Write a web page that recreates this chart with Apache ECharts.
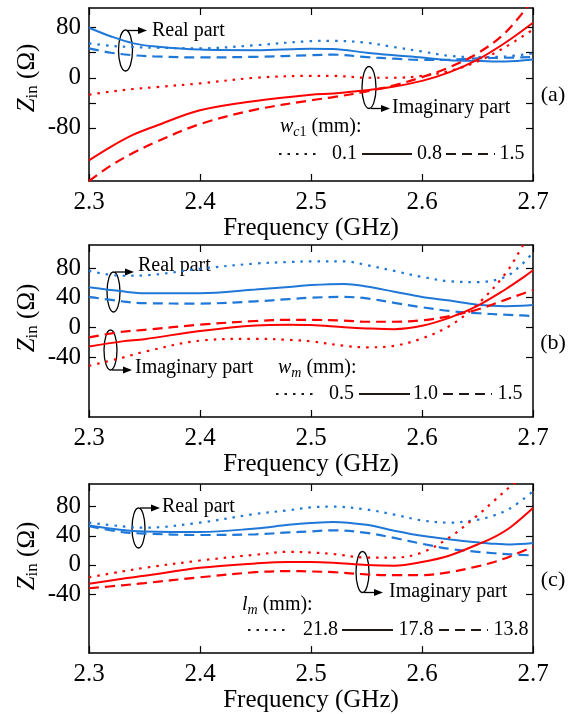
<!DOCTYPE html>
<html><head><meta charset="utf-8">
<script src="https://cdn.jsdelivr.net/npm/echarts@6/dist/echarts.min.js"></script>
<style>html,body{margin:0;padding:0;background:#fff}#c{width:576px;height:714px}</style>
</head><body><div id="c"></div>
<script>
const FONT = '"Liberation Serif","Times New Roman",serif';
const BLUE = '#1f78d8', RED = '#ff0000', INK = '#231815';

// ---------- panel (a): w_c1 ----------
const freqA = [2.30, 2.32, 2.34, 2.36, 2.40, 2.45, 2.50, 2.52, 2.55, 2.575, 2.60, 2.625, 2.65, 2.675, 2.70];
const aReal01 = [55, 51, 49, 48, 47, 52, 58.5, 59, 56, 49, 42, 35, 33, 34, 39];
const aReal08 = [80, 66, 55, 50, 45, 44, 46.5, 46, 40, 36, 32.5, 28, 27, 26, 29];
const aReal15 = [47, 40, 36, 34, 32.5, 33.5, 36, 37, 33, 30.5, 28.5, 29, 31, 32, 33];
const aImag01 = [-27, -22, -18, -15, -9, 0, 3, 3, 0, 0, 3, 11, 26, 49, 77];
const aImag08 = [-132, -110, -91, -77, -52, -37, -27, -25, -20, -14, -5, 9, 29, 56, 88];
const aImag15 = [-165, -140, -120, -103, -74, -51, -36, -31, -22, -12, 1, 17, 39, 72, 125];

// ---------- panel (b): w_m ----------
const freqB = [2.30, 2.33, 2.35, 2.40, 2.45, 2.48, 2.50, 2.53, 2.55, 2.575, 2.60, 2.625, 2.65, 2.675, 2.69, 2.70];
const bReal05 = [76, 69.5, 70, 79, 86, 88, 89, 89, 84, 76, 68, 62, 61, 68, 85, 101];
const bReal10 = [54, 48.5, 46, 46, 51, 54.5, 57, 58.5, 55, 48, 41, 36, 30.5, 28.5, 29, 30];
const bReal15 = [41, 35, 32.5, 32, 35, 38, 40, 41, 39, 33, 27, 22, 19, 17, 16, 15];
const bImag05 = [-52, -41, -33, -18, -15.5, -17, -19, -25, -27, -25, -15, 2, 31, 72, 108, 135];
const bImag10 = [-26, -19, -16, -5, 2.5, 3.5, 3, 0, -1.5, -2.5, 2, 13, 29, 51, 66, 77];
const bImag15 = [-13.5, -6, -3.5, 3.5, 8.5, 10, 10, 9, 7.5, 7.5, 9.5, 15, 24, 37, 45, 50];

// ---------- panel (c): l_m ----------
const freqC = [2.30, 2.33, 2.35, 2.40, 2.45, 2.48, 2.50, 2.52, 2.55, 2.575, 2.60, 2.625, 2.65, 2.665, 2.68, 2.70];
const cReal218 = [58, 53, 51, 58, 70, 75, 79, 80, 76, 69, 61, 58, 62, 68, 78, 101];
const cReal178 = [54, 48, 46, 45, 50, 55, 57.5, 59, 55, 47, 40, 35, 31, 29, 28, 30];
const cReal138 = [53, 45, 43, 41, 42, 44.5, 46, 47.5, 44, 37, 29, 22, 18, 16, 14.5, 13];
const cImag218 = [-17, -9, -4, 6, 14, 18, 17, 15, 10, 10, 17, 38, 68, 88, 108, 130];
const cImag178 = [-26, -19, -15, -4, 2, 4, 4, 3, 0, -1, 4, 13, 28, 38, 52, 78];
const cImag138 = [-32, -28, -25, -17, -10, -8.5, -9, -10, -13, -14, -14, -10, -2, 4, 12, 25];

// axis ticks / labels
const xTicks = [2.3, 2.4, 2.5, 2.6, 2.7];
const yTicksA = [-80, -40, 0, 40, 80], yLabelsA = [-80, 0, 80];
const yTicksBC = [-40, 0, 40, 80], yLabelsBC = [-40, 0, 40, 80];
const yRange = [[-165, 111.5], [-121, 111], [-121, 111]];

const grids = [
  {left: 89, right: 43, top: 8, height: 173},
  {left: 89, right: 43, top: 245, height: 172},
  {left: 89, right: 43, top: 484, height: 172}
];

const DOT = [2.5, 6], DASH = [10, 6];
function mk(g, freq, vals, color, type) {
  return {
    type: 'line', xAxisIndex: 2 * g, yAxisIndex: 2 * g, smooth: 0.35, symbol: 'none', clip: true,
    data: freq.map((f, i) => [f, vals[i]]),
    lineStyle: {color: color, width: type === 'solid' ? 2 : 2.2, type: type === 'dot' ? DOT : (type === 'dash' ? DASH : 'solid')},
    silent: true, animation: false
  };
}
const series = [
  mk(0, freqA, aReal01, BLUE, 'dot'), mk(0, freqA, aReal08, BLUE, 'solid'), mk(0, freqA, aReal15, BLUE, 'dash'),
  mk(0, freqA, aImag01, RED, 'dot'), mk(0, freqA, aImag08, RED, 'solid'), mk(0, freqA, aImag15, RED, 'dash'),
  mk(1, freqB, bReal05, BLUE, 'dot'), mk(1, freqB, bReal10, BLUE, 'solid'), mk(1, freqB, bReal15, BLUE, 'dash'),
  mk(1, freqB, bImag05, RED, 'dot'), mk(1, freqB, bImag10, RED, 'solid'), mk(1, freqB, bImag15, RED, 'dash'),
  mk(2, freqC, cReal218, BLUE, 'dot'), mk(2, freqC, cReal178, BLUE, 'solid'), mk(2, freqC, cReal138, BLUE, 'dash'),
  mk(2, freqC, cImag218, RED, 'dot'), mk(2, freqC, cImag178, RED, 'solid'), mk(2, freqC, cImag138, RED, 'dash')
];

const axLine = {show: true, onZero: false, lineStyle: {color: '#000', width: 1.5}};
const tickStyle = {color: '#000', width: 1.2};
const xAxes = [], yAxes = [];
for (let g = 0; g < 3; g++) {
  xAxes.push({
    type: 'value', gridIndex: g, position: 'bottom', min: 2.3, max: 2.7,
    axisLine: axLine, splitLine: {show: false},
    axisTick: {inside: true, length: 7, customValues: xTicks, lineStyle: tickStyle},
    axisLabel: {customValues: xTicks, formatter: v => v.toFixed(1), color: '#000', fontFamily: FONT, fontSize: 25, margin: 9},
    name: 'Frequency (GHz)', nameLocation: 'middle', nameGap: 29,
    nameTextStyle: {color: '#000', fontFamily: FONT, fontSize: 25}
  });
  xAxes.push({
    type: 'value', gridIndex: g, position: 'top', min: 2.3, max: 2.7,
    axisLine: axLine, splitLine: {show: false},
    axisTick: {inside: true, length: 7, customValues: xTicks, lineStyle: tickStyle},
    axisLabel: {show: false}
  });
  const ticks = g === 0 ? yTicksA : yTicksBC, labels = g === 0 ? yLabelsA : yLabelsBC;
  yAxes.push({
    type: 'value', gridIndex: g, position: 'left', min: yRange[g][0], max: yRange[g][1],
    axisLine: axLine, splitLine: {show: false},
    axisTick: {inside: true, length: 7, customValues: ticks, lineStyle: tickStyle},
    axisLabel: {customValues: labels, formatter: v => String(v), color: '#000', fontFamily: FONT, fontSize: 25, margin: 8}
  });
  yAxes.push({
    type: 'value', gridIndex: g, position: 'right', min: yRange[g][0], max: yRange[g][1],
    axisLine: axLine, splitLine: {show: false},
    axisTick: {inside: true, length: 7, customValues: ticks, lineStyle: tickStyle},
    axisLabel: {show: false}
  });
}

// ---------- annotation helpers ----------
const mctx = document.createElement('canvas').getContext('2d');
function fontStr(s, it) { return (it ? 'italic ' : '') + s + 'px ' + FONT; }
function seq(x, y, parts, align) {
  const w = parts.map(p => { mctx.font = fontStr(p.s, p.i); return mctx.measureText(p.t).width; });
  const total = w.reduce((a, b) => a + b, 0);
  let cx = align === 'center' ? x - total / 2 : (align === 'right' ? x - total : x);
  const els = parts.map((p, k) => {
    const el = {type: 'text', x: cx, y: y + (p.dy || 0), silent: true,
      style: {text: p.t, font: fontStr(p.s, p.i), fill: '#000', textAlign: 'left', align: 'left', textVerticalAlign: 'middle', verticalAlign: 'middle'}};
    cx += w[k];
    return el;
  });
  return {els, total};
}
function ellipse(cx, cy, rx, ry) {
  return {type: 'ellipse', silent: true, shape: {cx, cy, rx, ry}, style: {fill: 'none', stroke: '#000', lineWidth: 1.3}};
}
function arrow(x1, y, x2) {
  return [
    {type: 'line', silent: true, shape: {x1, y1: y, x2: x2 - 7, y2: y}, style: {stroke: '#000', lineWidth: 1.3}},
    {type: 'polygon', silent: true, shape: {points: [[x2, y], [x2 - 9, y - 3.5], [x2 - 9, y + 3.5]]}, style: {fill: '#000'}}
  ];
}
function sample(x1, x2, y, type) {
  return {type: 'line', silent: true, shape: {x1, y1: y, x2, y2: y},
    style: {stroke: INK, lineWidth: 2.2, lineDash: type === 'dot' ? [2.5, 6] : (type === 'dash' ? [10, 6] : null)}};
}
function ytitle(cy) {
  const r = seq(0, 0, [{t: 'Z', s: 25, i: true}, {t: 'in', s: 17, dy: 6}, {t: ' (Ω)', s: 25}]);
  return {type: 'group', x: 27, y: cy + r.total / 2, rotation: Math.PI / 2, children: r.els};
}

const g = [];
// y titles
g.push(ytitle(78), ytitle(318), ytitle(556));
// panel labels
g.push(...seq(553, 95, [{t: '(a)', s: 22}], 'center').els);
g.push(...seq(553, 343, [{t: '(b)', s: 22}], 'center').els);
g.push(...seq(553, 580, [{t: '(c)', s: 22}], 'center').els);

// panel (a) annotations
g.push(ellipse(125.5, 50.5, 7, 20.5), ...arrow(127, 30.5, 147));
g.push(...seq(152, 31, [{t: 'Real part', s: 20}]).els);
g.push(ellipse(369, 87.5, 7, 21), ...arrow(371, 108.5, 390));
g.push(...seq(392, 108, [{t: 'Imaginary part', s: 20}]).els);
g.push(...seq(280, 127, [{t: 'w', s: 20, i: true}, {t: 'c', s: 14, i: true, dy: 5}, {t: '1', s: 14, dy: 5}, {t: ' (mm):', s: 20}]).els);
g.push(sample(279, 318, 154, 'dot'), sample(362, 412, 154, 'solid'), sample(446, 495, 154, 'dash'));
g.push(...seq(344.5, 154, [{t: '0.1', s: 20}], 'center').els);
g.push(...seq(429.5, 154, [{t: '0.8', s: 20}], 'center').els);
g.push(...seq(512, 154, [{t: '1.5', s: 20}], 'center').els);

// panel (b) annotations
g.push(ellipse(113.5, 292, 6.5, 20), ...arrow(115, 272, 134));
g.push(...seq(138, 266, [{t: 'Real part', s: 20}]).els);
g.push(ellipse(110.5, 350, 6.5, 20), ...arrow(112, 370, 132));
g.push(...seq(135, 368, [{t: 'Imaginary part', s: 20}]).els);
g.push(...seq(278, 368, [{t: 'w', s: 20, i: true}, {t: 'm', s: 14, i: true, dy: 5}, {t: ' (mm):', s: 20}]).els);
g.push(sample(276, 315, 394, 'dot'), sample(359, 410, 394, 'solid'), sample(443, 492, 394, 'dash'));
g.push(...seq(341.5, 394, [{t: '0.5', s: 20}], 'center').els);
g.push(...seq(425.5, 394, [{t: '1.0', s: 20}], 'center').els);
g.push(...seq(510, 394, [{t: '1.5', s: 20}], 'center').els);

// panel (c) annotations
g.push(ellipse(138.5, 528, 6.5, 20), ...arrow(140, 508, 160));
g.push(...seq(162, 507, [{t: 'Real part', s: 20}]).els);
g.push(ellipse(362.5, 572, 6.5, 20.5), ...arrow(364, 592.5, 383));
g.push(...seq(389, 592, [{t: 'Imaginary part', s: 20}]).els);
g.push(...seq(242, 605, [{t: 'l', s: 20, i: true}, {t: 'm', s: 14, i: true, dy: 5}, {t: ' (mm):', s: 20}]).els);
g.push(sample(248, 287, 630, 'dot'), sample(342, 393, 630, 'solid'), sample(439, 488, 630, 'dash'));
g.push(...seq(320.5, 630, [{t: '21.8', s: 20}], 'center').els);
g.push(...seq(416, 630, [{t: '17.8', s: 20}], 'center').els);
g.push(...seq(511, 630, [{t: '13.8', s: 20}], 'center').els);

const chart = echarts.init(document.getElementById('c'), null, {renderer: 'canvas'});
chart.setOption({
  animation: false,
  backgroundColor: '#fff',
  grid: grids,
  xAxis: xAxes,
  yAxis: yAxes,
  series: series,
  graphic: {elements: g}
});
</script>
</body></html>
